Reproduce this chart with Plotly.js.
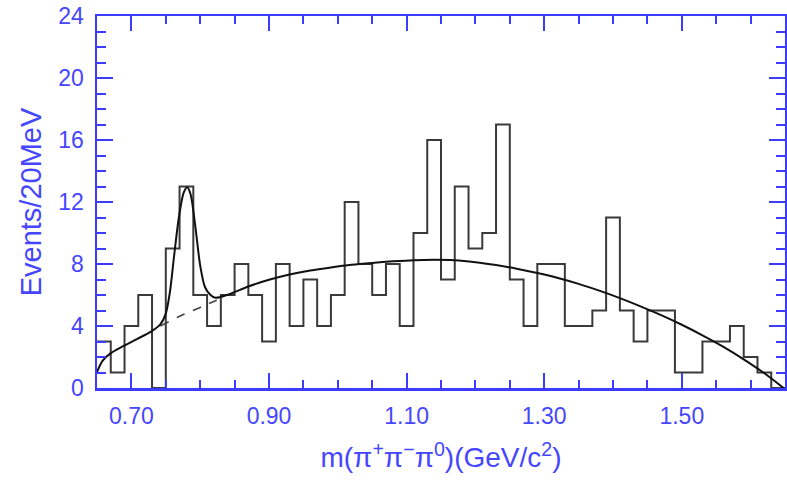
<!DOCTYPE html>
<html>
<head>
<meta charset="utf-8">
<script src="https://cdn.plot.ly/plotly-3.0.1.min.js"></script>
<style>html,body{margin:0;padding:0;background:#fff;}#chart{width:787px;height:494px;}</style>
</head>
<body>
<div id="chart"></div>
<script>
// Histogram: events per 20 MeV bin, starting at 0.65 GeV/c^2
const binStart = 0.65;
const binWidth = 0.02;
const counts = [3, 1, 4, 6, 0, 9, 13, 6, 4, 6,
                8, 6, 3, 8, 4, 7, 4, 6, 12, 8,
                6, 8, 4, 10, 16, 7, 13, 9, 10, 17,
                7, 4, 8, 8, 4, 4, 5, 11, 5, 3,
                5, 5, 1, 1, 3, 3, 4, 2, 1, 0];

// Total fit curve (solid)
const fitX = [0.650, 0.658, 0.670, 0.688, 0.708, 0.728, 0.742, 0.750, 0.756, 0.762,
              0.769, 0.776, 0.781, 0.786, 0.793, 0.800, 0.807, 0.815, 0.822, 0.840,
              0.870, 0.900, 0.930, 0.960, 0.990, 1.020, 1.050, 1.080, 1.110, 1.140,
              1.170, 1.200, 1.230, 1.260, 1.290, 1.320, 1.350, 1.380, 1.410, 1.440,
              1.470, 1.500, 1.530, 1.560, 1.590, 1.620, 1.648];
const fitY = [1.03, 1.75, 2.25, 2.70, 3.16, 3.62, 4.10, 4.80, 6.20, 8.50,
              11.0, 12.6, 12.95, 12.5, 10.4, 7.9, 6.5, 6.0, 5.82, 6.02,
              6.55, 6.98, 7.32, 7.58, 7.78, 7.95, 8.07, 8.17, 8.25, 8.28,
              8.25, 8.12, 7.93, 7.7, 7.42, 7.1, 6.72, 6.28, 5.8, 5.27,
              4.7, 4.08, 3.4, 2.67, 1.85, 0.95, 0.0];

// Background under the peak (dashed)
const bgX = [0.742, 0.771, 0.800, 0.824];
const bgY = [4.00, 4.65, 5.20, 5.66];

// Axis ticks
const xTickVals = [0.70, 0.90, 1.10, 1.30, 1.50];
const xTickText = ['0.70', '0.90', '1.10', '1.30', '1.50'];
const yTickVals = [0, 4, 8, 12, 16, 20, 24];

const edges = counts.map((_, i) => +(binStart + i * binWidth).toFixed(4));
edges.push(+(binStart + counts.length * binWidth).toFixed(4));
const stepY = counts.concat([counts[counts.length - 1]]);

const blue = '#3c3cff';
const blueText = '#4646ff';

const traces = [
  {x: edges, y: stepY, type: 'scatter', mode: 'lines',
   line: {shape: 'hv', color: '#3a3a3a', width: 2}, hoverinfo: 'skip'},
  {x: bgX, y: bgY, type: 'scatter', mode: 'lines',
   line: {shape: 'spline', color: '#444', width: 1.6, dash: 'dash'}, hoverinfo: 'skip'},
  {x: fitX, y: fitY, type: 'scatter', mode: 'lines',
   line: {shape: 'spline', smoothing: 0.8, color: '#111', width: 2}, hoverinfo: 'skip'}
];

const layout = {
  width: 787, height: 494,
  margin: {l: 97, r: 2, t: 16, b: 106},
  paper_bgcolor: '#fff', plot_bgcolor: '#fff',
  showlegend: false,
  font: {family: 'Liberation Sans, Arial, sans-serif', color: blueText},
  xaxis: {
    range: [0.65, 1.65], showgrid: false, zeroline: false,
    showline: true, linecolor: blue, linewidth: 2.5, mirror: 'ticks',
    ticks: 'inside', ticklen: 15, tickwidth: 2, tickcolor: blue,
    tickmode: 'array', tickvals: xTickVals, ticktext: xTickText,
    tickfont: {size: 23, color: blueText}, ticklabelstandoff: 6,
    minor: {dtick: 0.05, tick0: 0.65, ticks: 'inside', ticklen: 8, tickwidth: 2, tickcolor: blue, showgrid: false},
    title: {text: 'm(π<sup>+</sup>π<sup>−</sup>π<sup>0</sup>)(GeV/c<sup>2</sup>)', font: {size: 28, color: blueText}, standoff: 20}
  },
  yaxis: {
    range: [0, 24], showgrid: false, zeroline: false,
    showline: true, linecolor: blue, linewidth: 2.5, mirror: 'ticks',
    ticks: 'inside', ticklen: 16, tickwidth: 2, tickcolor: blue,
    tickmode: 'array', tickvals: yTickVals,
    tickfont: {size: 23, color: blueText}, ticklabelstandoff: 6,
    minor: {dtick: 1, tick0: 0, ticks: 'inside', ticklen: 9, tickwidth: 2, tickcolor: blue, showgrid: false},
    title: {text: 'Events/20MeV', font: {size: 29, color: blueText}, standoff: 8}
  }
};

Plotly.newPlot('chart', traces, layout, {displayModeBar: false, staticPlot: true});
</script>
</body>
</html>
